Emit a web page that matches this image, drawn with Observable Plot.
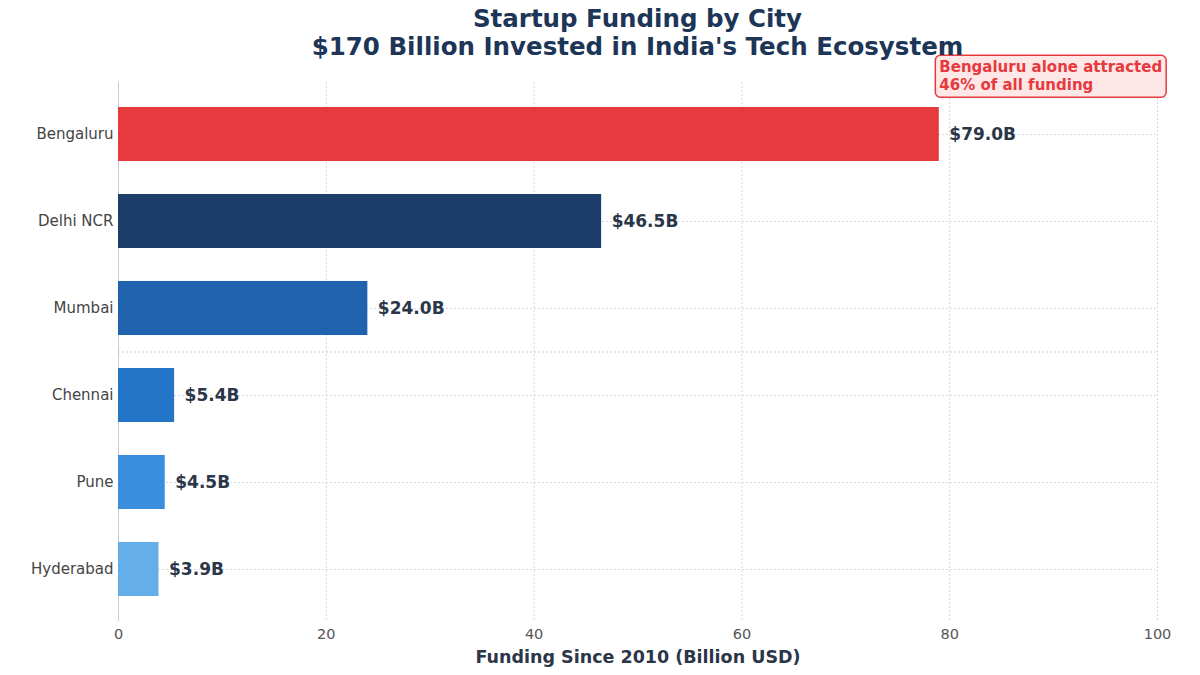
<!DOCTYPE html>
<html>
<head>
<meta charset="utf-8">
<script src="https://cdn.jsdelivr.net/npm/d3@7"></script>
<script src="https://cdn.jsdelivr.net/npm/@observablehq/plot@0.6"></script>
<style>
  html, body { margin: 0; padding: 0; background: #ffffff; }
  body { width: 1200px; height: 675px; overflow: hidden; font-family: "DejaVu Sans", sans-serif; }
  #title { width: 1200px; height: 52px; text-align: center; color: #1d3557; font-weight: bold; font-size: 24.5px; line-height: 28px; padding-top: 5px; padding-left: 75px; box-sizing: border-box; white-space: nowrap; position: relative; z-index: 2; }
  #chart svg { overflow: visible; display: block; }
</style>
</head>
<body>
<div id="title">Startup Funding by City<br>$170 Billion Invested in India's Tech Ecosystem</div>
<div id="chart"></div>
<script>
const cities = ["Bengaluru", "Delhi NCR", "Mumbai", "Chennai", "Pune", "Hyderabad"];
const funding = [79.0, 46.5, 24.0, 5.4, 4.5, 3.9];
const colors = ["#e63a3e", "#1d3d6b", "#1f62ad", "#2474c8", "#3b8ede", "#64aeea"];
const xTicks = [0, 20, 40, 60, 80, 100];
const annotationText = "Bengaluru alone attracted\n46% of all funding";
const annotationX = [79];

const data = cities.map((c, i) => ({city: c, value: funding[i], color: colors[i], label: `$${funding[i].toFixed(1)}B`}));

const chart = Plot.plot({
  width: 1200,
  height: 623,
  marginLeft: 118,
  marginRight: 43,
  marginTop: 30,
  marginBottom: 54,
  style: {fontFamily: "DejaVu Sans, sans-serif", background: "transparent", overflow: "visible"},
  x: {domain: [0, 100], ticks: xTicks, tickSize: 0, tickPadding: 7, label: "Funding Since 2010 (Billion USD)", labelAnchor: "center", labelArrow: "none", labelOffset: 41},
  y: {domain: cities, paddingInner: 0.374, paddingOuter: 0.257, tickSize: 0, tickPadding: 5, label: null},
  marks: [
    Plot.gridX(xTicks, {stroke: "#c8ccd0", strokeOpacity: 1, strokeDasharray: "2,2", strokeWidth: 0.8}),
    Plot.gridY(cities, {stroke: "#c8d4dc", strokeOpacity: 1, strokeDasharray: "2,2", strokeWidth: 0.8}),
    Plot.ruleY([0], {frameAnchor: "bottom", y: null, stroke: "#c8ccd0", strokeDasharray: "2,2"}),
    Plot.ruleX([0], {stroke: "#c8ccd0"}),
    Plot.barX(data, {y: "city", x: "value", fill: "color"}),
    Plot.text(data, {y: "city", x: "value", text: "label", textAnchor: "start", dx: 10, fontSize: 17, fontWeight: "bold", fill: "#2b3648"}),
    Plot.text(annotationX, {x: d => d, frameAnchor: "top", text: () => annotationText, textAnchor: "start", lineAnchor: "top", dy: -23, fontSize: 15, fontWeight: "bold", fill: "#e63a3e", lineHeight: 1.2, className: "annot"})
  ]
});

document.getElementById("chart").appendChild(chart);

// style axis texts
d3.select(chart).selectAll("[aria-label='y-axis tick label'] text").attr("fill", "#444").style("font-size", "15px");
d3.select(chart).selectAll("[aria-label='x-axis tick label'] text").attr("fill", "#555").style("font-size", "14.5px");
d3.select(chart).selectAll("[aria-label='x-axis label'] text").attr("fill", "#2b3648").style("font-size", "17.5px").style("font-weight", "bold");

// annotation box around the annotation text
const annotG = chart.querySelector("g.annot");
if (annotG) {
  const t = annotG.querySelector("text");
  const bb = t.getBBox();
  const pad = 4;
  const r = document.createElementNS("http://www.w3.org/2000/svg", "rect");
  const tr = t.getAttribute("transform");
  if (tr) r.setAttribute("transform", tr);
  r.setAttribute("x", bb.x - pad);
  r.setAttribute("y", bb.y - pad + 1);
  r.setAttribute("width", bb.width + 2 * pad);
  r.setAttribute("height", bb.height + 2 * pad - 2);
  r.setAttribute("rx", 5);
  r.setAttribute("fill", "#fde4e4");
  r.setAttribute("fill-opacity", 0.9);
  r.setAttribute("stroke", "#e63a3e");
  r.setAttribute("stroke-width", 1.5);
  annotG.insertBefore(r, annotG.firstChild);
}
</script>
</body>
</html>
